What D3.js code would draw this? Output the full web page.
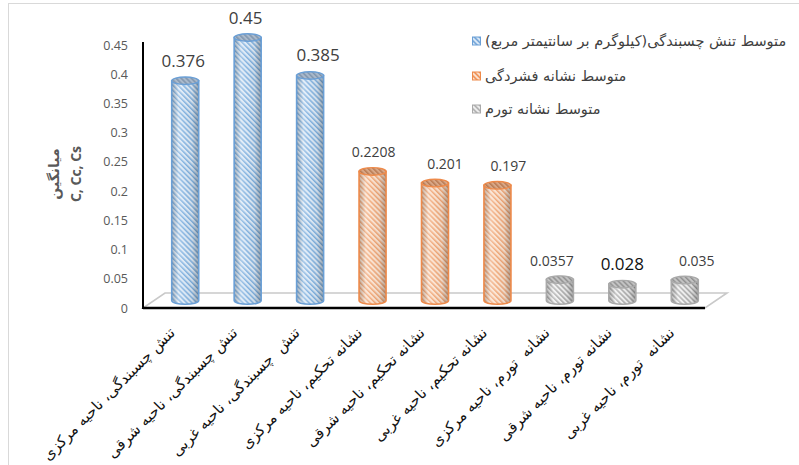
<!DOCTYPE html>
<html>
<head>
<meta charset="utf-8">
<script src="https://cdn.jsdelivr.net/npm/d3@7/dist/d3.min.js"></script>
<style>
  body { margin: 0; background: #fff; }
  svg { display: block; }
  .fa { font-family: "DejaVu Sans", sans-serif; white-space: pre; }
  .num { font-family: "Open Sans", "Liberation Sans", sans-serif; }
</style>
</head>
<body>
<svg id="chart" width="799" height="465"></svg>
<script>
// ---- data ----
const categories = [
  "تنش چسبندگی، ناحیه مرکزی",
  "تنش چسبندگی، ناحیه شرقی",
  "تنش  چسبندگی، ناحیه غربی",
  "نشانه تحکیم، ناحیه مرکزی",
  "نشانه تحکیم، ناحیه شرقی",
  "نشانه تحکیم، ناحیه غربی",
  "نشانه  تورم، ناحیه مرکزی",
  "نشانه تورم، ناحیه شرقی",
  "نشانه  تورم، ناحیه غربی"
];
const values = [0.376, 0.45, 0.385, 0.2208, 0.201, 0.197, 0.0357, 0.028, 0.035];
const valueLabels = ["0.376", "0.45", "0.385", "0.2208", "0.201", "0.197", "0.0357", "0.028", "0.035"];
const seriesIndex = [0, 0, 0, 1, 1, 1, 2, 2, 2];
const seriesNames = [
  "متوسط تنش چسبندگی(کیلوگرم بر سانتیمتر مربع)",
  "متوسط نشانه فشردگی",
  "متوسط نشانه تورم"
];
const yTicks = [0, 0.05, 0.1, 0.15, 0.2, 0.25, 0.3, 0.35, 0.4, 0.45];
const yTickLabels = ["0", "0.05", "0.1", "0.15", "0.2", "0.25", "0.3", "0.35", "0.4", "0.45"];
const yTitleLines = ["میانگین", "C, Cc, Cs"];

// ---- look ----
const palette = [
  { stroke: "#6a9fd6", bodyBg: "#dce9f6", bodyLine: "#7fb0df", topBg: "#aab9cb", topLine: "#7f95ad" },
  { stroke: "#ee8a4a", bodyBg: "#fbe3d1", bodyLine: "#f0a676", topBg: "#d8a787", topLine: "#b97a52" },
  { stroke: "#a9a9a9", bodyBg: "#efefef", bodyLine: "#a8a8a8", topBg: "#c4c4c4", topLine: "#909090" }
];
// per-label horizontal nudges of the value labels
const labelNudge = [-2, -2, 8, 1, 10, 11, -8, 0, 12];
const labelSize = [17, 17, 17, 14, 14, 14, 14, 17, 14];
const labelColor = ["#404040", "#404040", "#404040", "#404040", "#404040", "#404040", "#404040", "#111", "#404040"];

const svg = d3.select("#chart");
const defs = svg.append("defs");

// chart frame
svg.append("rect").attr("x", 8.5).attr("y", 3.5).attr("width", 820).attr("height", 500)
  .attr("fill", "#fff").attr("stroke", "#d9d9d9").attr("stroke-width", 1);

// scales: front plane of the 3D box
const x = d3.scaleBand().domain(d3.range(categories.length)).range([143, 705]);
const y = d3.scaleLinear().domain([0, 0.45]).range([308, 45]);
const depth = { dx: 22, dy: -15 };             // full floor depth
const mid = { dx: depth.dx / 2, dy: depth.dy / 2 }; // cylinders stand mid-depth
const rx = 13.5, ry = 3.8;

// hatch patterns
palette.forEach((p, i) => {
  [["body", p.bodyBg, p.bodyLine], ["top", p.topBg, p.topLine], ["key", p.bodyBg, p.stroke]].forEach(([kind, bg, ln]) => {
    const pat = defs.append("pattern").attr("id", `hatch-${kind}-${i}`)
      .attr("patternUnits", "userSpaceOnUse").attr("width", 3.6).attr("height", 3.6)
      .attr("patternTransform", "rotate(-45)");
    pat.append("rect").attr("width", 3.6).attr("height", 3.6).attr("fill", bg);
    pat.append("rect").attr("width", 1.5).attr("height", 3.6).attr("fill", ln);
  });
});
// cylinder shading
const shade = defs.append("linearGradient").attr("id", "shade").attr("x1", 0).attr("x2", 1).attr("y1", 0).attr("y2", 0);
[[0, "#000", 0.22], [0.25, "#fff", 0.25], [0.45, "#fff", 0.05], [0.75, "#000", 0.05], [1, "#000", 0.3]]
  .forEach(([o, c, a]) => shade.append("stop").attr("offset", o).attr("stop-color", c).attr("stop-opacity", a));

// floor
const fx0 = x.range()[0], fx1 = x.range()[1], fy = y(0);
svg.append("polygon")
  .attr("points", [[fx0, fy], [fx1, fy], [fx1 + depth.dx, fy + depth.dy], [fx0 + depth.dx, fy + depth.dy]].join(" "))
  .attr("fill", "#fff").attr("stroke", "#c9c9c9").attr("stroke-width", 1.6);

// cylinders
const bars = svg.append("g").selectAll("g").data(values).join("g");
bars.each(function (v, i) {
  const g = d3.select(this);
  const s = seriesIndex[i], p = palette[s];
  const cx = x(i) + x.bandwidth() / 2 + mid.dx;
  const top = y(v) + mid.dy, bot = y(0) + mid.dy;
  const body = `M${cx - rx},${top} L${cx - rx},${bot} A${rx},${ry} 0 0 0 ${cx + rx},${bot} L${cx + rx},${top} Z`;
  g.append("path").attr("d", body).attr("fill", `url(#hatch-body-${s})`);
  g.append("path").attr("d", body).attr("fill", "url(#shade)");
  g.append("path").attr("d", body).attr("fill", "none").attr("stroke", p.stroke).attr("stroke-width", 1.6);
  g.append("ellipse").attr("cx", cx).attr("cy", top).attr("rx", rx).attr("ry", ry)
    .attr("fill", `url(#hatch-top-${s})`).attr("stroke", p.stroke).attr("stroke-width", 1.4);
});

// front edge and value axis line
svg.append("line").attr("x1", fx0).attr("x2", fx1).attr("y1", fy).attr("y2", fy)
  .attr("stroke", "#000").attr("stroke-width", 2.6);
svg.append("line").attr("x1", fx0).attr("x2", fx0).attr("y1", y(0.45) - 3).attr("y2", fy + 1)
  .attr("stroke", "#000").attr("stroke-width", 2);

// value axis labels
const yAxis = d3.axisLeft(y).tickValues(yTicks).tickFormat((d, i) => yTickLabels[i]).tickSize(0).tickPadding(15);
const ga = svg.append("g").attr("transform", `translate(${fx0},0)`).call(yAxis);
ga.select(".domain").remove();
ga.selectAll("text").attr("class", "num").attr("font-size", 12.5).attr("fill", "#595959");

// axis title
yTitleLines.forEach((t, k) => {
  svg.append("text")
    .attr("class", k === 0 ? "fa" : "num")
    .attr("transform", `translate(${k === 0 ? 54 : 76},174) rotate(-90)`)
    .attr("text-anchor", "middle").attr("dy", "0.35em")
    .attr("font-size", 14).attr("font-weight", "bold").attr("fill", "#595959")
    .text(t);
});

// value labels
svg.append("g").selectAll("text").data(values).join("text")
  .attr("class", "num")
  .attr("x", (v, i) => x(i) + x.bandwidth() / 2 + mid.dx + labelNudge[i])
  .attr("y", v => y(v) + mid.dy - 14)
  .attr("text-anchor", "middle")
  .attr("font-size", (v, i) => labelSize[i])
  .attr("fill", (v, i) => labelColor[i])
  .text((v, i) => valueLabels[i]);

// category labels, slanted
svg.append("g").selectAll("text").data(categories).join("text")
  .attr("class", "fa")
  .attr("transform", (c, i) => `translate(${x(i) + x.bandwidth() / 2 - 2},330) rotate(-45)`)
  .attr("direction", "rtl").attr("text-anchor", "start").attr("dy", "0.35em")
  .attr("font-size", 15).attr("fill", "#111")
  .text(c => c);

// legend
const legend = svg.append("g").selectAll("g").data(seriesNames).join("g")
  .attr("transform", (d, i) => `translate(472,${[41, 76, 109][i]})`);
legend.append("rect").attr("x", 0.5).attr("y", -4).attr("width", 8).attr("height", 8)
  .attr("fill", (d, i) => `url(#hatch-key-${i})`).attr("stroke", (d, i) => palette[i].stroke).attr("stroke-width", 1);
legend.append("text").attr("class", "fa")
  .attr("x", 13).attr("dy", "0.35em")
  .attr("direction", "rtl").attr("text-anchor", "end")
  .attr("font-size", 14.5).attr("fill", "#404040")
  .text(d => d);
</script>
</body>
</html>
